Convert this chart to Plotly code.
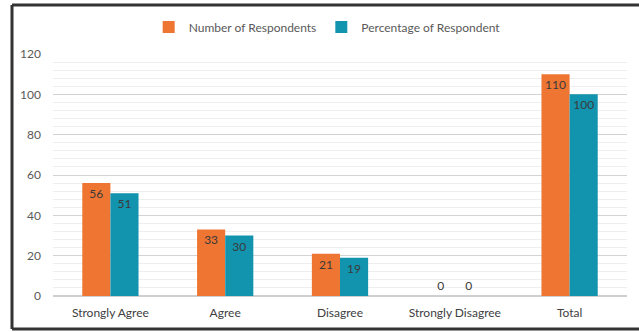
import plotly.graph_objects as go

categories = ["Strongly Agree", "Agree", "Disagree", "Strongly Disagree", "Total"]
number_of_respondents = [56, 33, 21, 0, 110]
percentage_of_respondent = [51, 30, 19, 0, 100]
series_names = ["Number of Respondents", "Percentage of Respondent"]
y_ticks = [0, 20, 40, 60, 80, 100, 120]

ORANGE = "#EF7532"
TEAL = "#1394AE"
FONT = "Lato, 'Open Sans', sans-serif"

def positions(vals):
    return ["inside" if v > 0 else "outside" for v in vals]

fig = go.Figure()
for name, vals, col in [(series_names[0], number_of_respondents, ORANGE),
                        (series_names[1], percentage_of_respondent, TEAL)]:
    fig.add_trace(go.Bar(
        x=categories, y=vals, name=name, marker=dict(color=col, line=dict(width=0)),
        text=[str(v) for v in vals], textposition=positions(vals),
        insidetextanchor="end", textangle=0,
        textfont=dict(size=12, color="#3a3a3a", family=FONT),
        cliponaxis=False,
    ))

fig.update_layout(
    width=639, height=332,
    margin=dict(l=53, r=12, t=54, b=36, autoexpand=False),
    paper_bgcolor="white", plot_bgcolor="white",
    barmode="group", bargap=0.51, bargroupgap=0,
    font=dict(family=FONT, size=12, color="#595959"),
    legend=dict(orientation="h", x=0.512, xanchor="center", xref="container",
                y=1 - 27 / 332, yref="container", yanchor="middle",
                font=dict(size=12, color="#595959"), itemwidth=30,
                bgcolor="rgba(0,0,0,0)", traceorder="normal"),
    uniformtext=dict(minsize=12, mode="show"),
)
fig.update_yaxes(range=[0, 120], tickvals=y_ticks, showgrid=True, gridcolor="#d3d3d3",
                 gridwidth=1, zeroline=True, zerolinecolor="#cfcfcf",
                 minor=dict(dtick=4, showgrid=True, gridcolor="#eeeeee", gridwidth=1),
                 ticklabelstandoff=11, tickfont=dict(size=12, color="#595959"),
                 fixedrange=True)
fig.update_xaxes(showline=False, ticks="", ticklabelstandoff=8,
                 tickfont=dict(size=12, color="#404040"))

# outer border (left, top, bottom)
border = dict(color="#333333", width=3)
fig.add_shape(type="line", xref="paper", yref="paper", x0=-41/574, x1=-41/574,
              y0=-33/242, y1=1 + 49/242, line=border)
fig.add_shape(type="line", xref="paper", yref="paper", x0=-41/574, x1=1 + 20/574,
              y0=1 + 49/242, y1=1 + 49/242, line=border)
fig.add_shape(type="line", xref="paper", yref="paper", x0=-41/574, x1=1 + 20/574,
              y0=-33/242, y1=-33/242, line=border)

fig.write_html("out.html")
